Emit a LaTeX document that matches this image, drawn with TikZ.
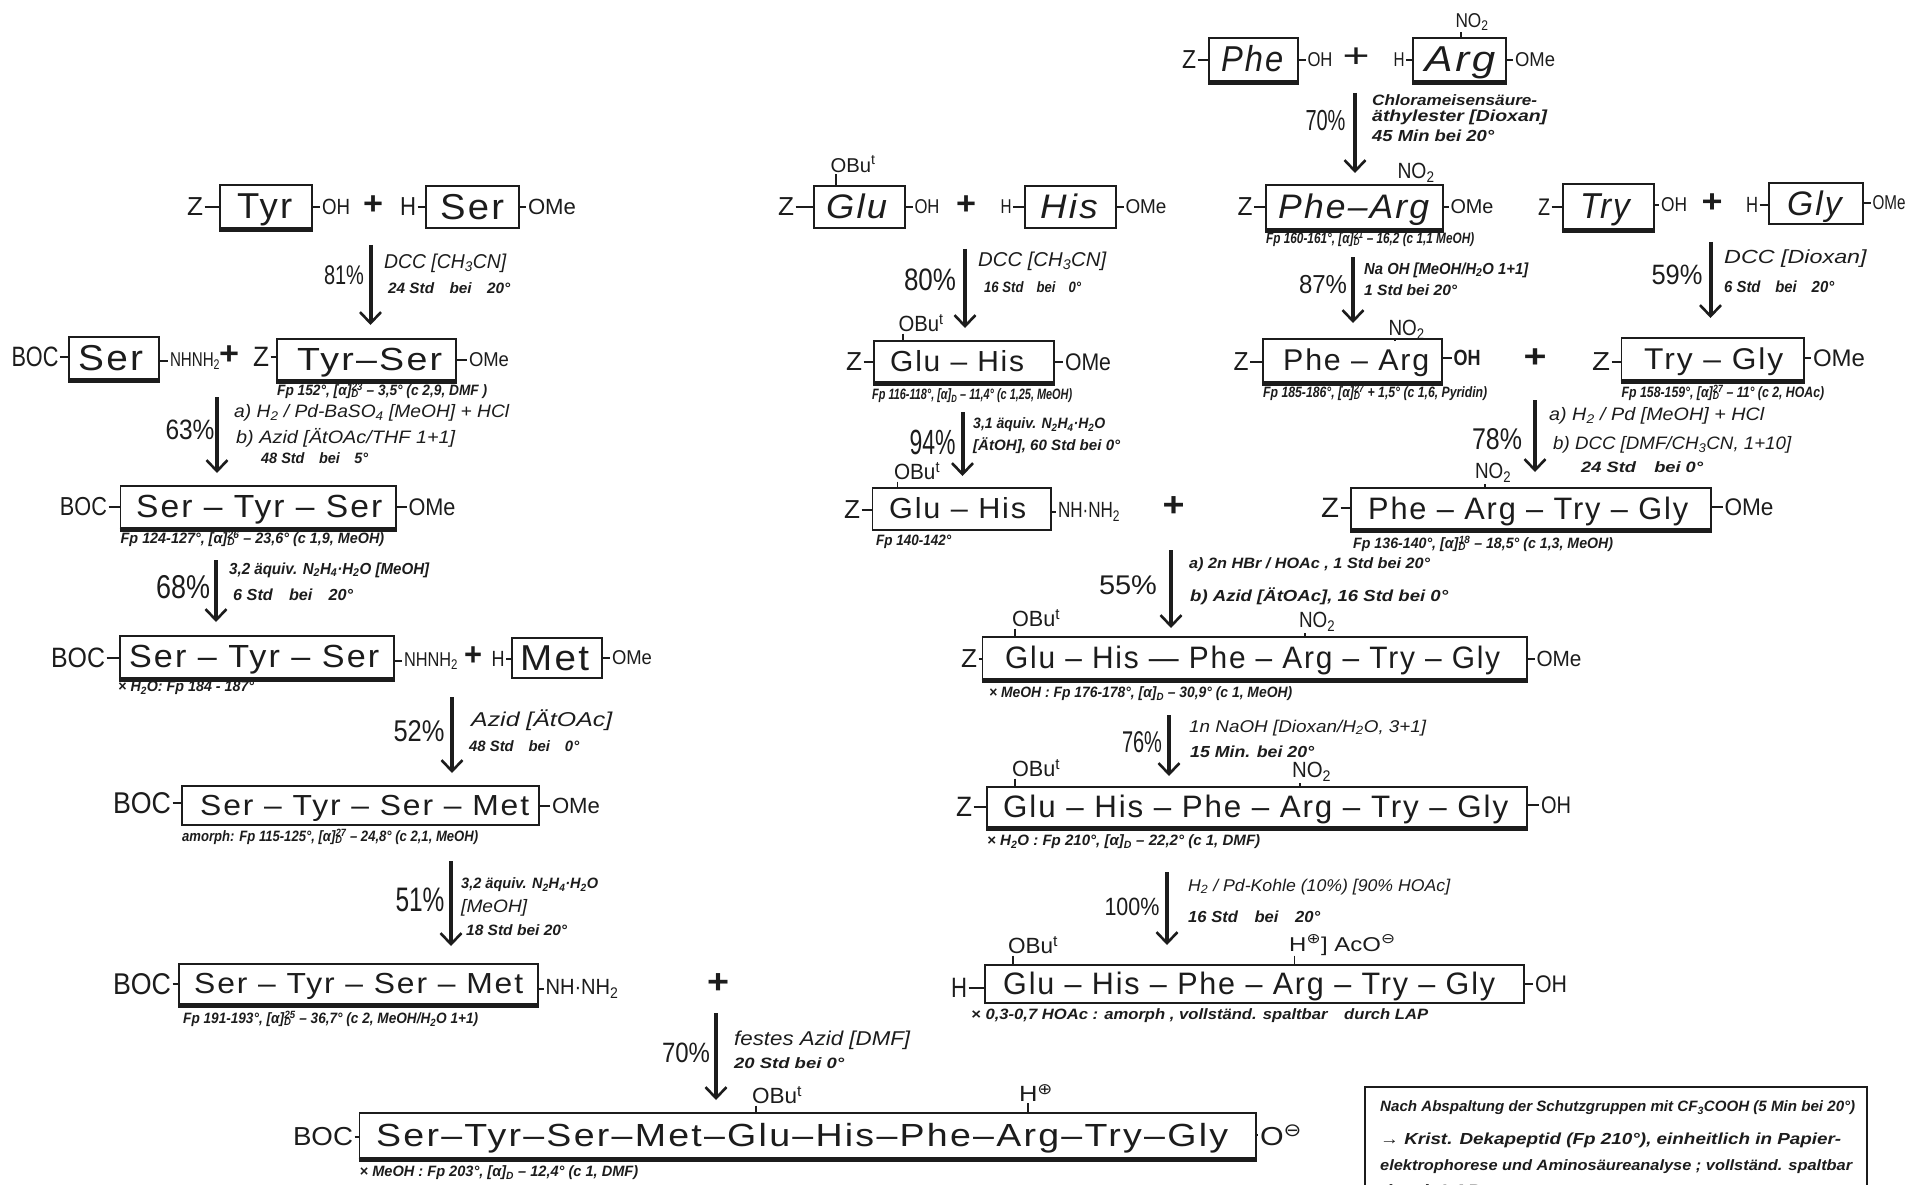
\documentclass[tikz,border=0pt]{standalone}
\usepackage{fontspec}
\usepackage{graphicx}
\usetikzlibrary{arrows.meta,calc}
\setmainfont{Liberation Sans}
\newfontfamily\pepfont[LetterSpace=6]{Liberation Sans}
\newfontfamily\symfont{DejaVu Sans}
\definecolor{ink}{HTML}{1C1C1C}
\tikzset{
  boxline/.style={draw=ink,line width=1.8pt,inner sep=0pt},
  heavyline/.style={draw=ink,line width=4.5pt},
  tickline/.style={draw=ink,line width=1.4pt},
  rxnarrow/.style={draw=ink,line width=4pt,-{Straight Barb[length=11pt,width=21pt,line width=2.6pt]}},
  lbl/.style={inner sep=1.5pt,text=ink},
  txt/.style={inner sep=0pt,text=ink,anchor=west},
}
\newcommand\ds[1]{\textsubscript{#1}}
\newcommand\us[1]{\textsuperscript{#1}}
\newcommand\stk[2]{\textsubscript{\rlap{#2}}\textsuperscript{#1}}
\newcommand\oplussym{{\symfont ⊕}}
\newcommand\ominussym{{\symfont ⊖}}
\newcommand\fitw[2]{\resizebox{#1pt}{\height}{#2}}
% peptide box: name x1 y1 x2 y2 textx1 textx2 size text
\newcommand\pep[9]{%
  \pgfmathsetmacro\pw{#4-#2}\pgfmathsetmacro\ph{#5-#3}%
  \pgfmathsetmacro\pcx{(#2+#4)/2}\pgfmathsetmacro\pcy{(#3+#5)/2}%
  \pgfmathsetmacro\tw{#7-#6}\pgfmathsetmacro\tby{(#3+#5)/2+0.34*#8}%
  \node[boxline,minimum width=\pw pt,minimum height=\ph pt] (#1) at (\pcx,\pcy) {};%
  \node[anchor=base west,inner sep=0pt,text=ink,font={\pepfont\fontsize{#8}{#8}\selectfont}] (#1t) at (#6,\tby) {\fitw{\tw}{#9}};%
}
\newcommand\heavy[1]{\draw[heavyline] ([yshift=-1pt]#1.south west) -- ([yshift=-1pt]#1.south east);}
% centred label: name cx cy width size text
\newcommand\lab[6]{\node[lbl,font={\fontsize{#5}{#5}\selectfont}] (#1) at (#2,#3) {\fitw{#4}{#6}};}
% left tick, right tick, top tick
\newcommand\tickL[2]{\draw[tickline] (#1.east) -- (#1.east -| #2.west);}
\newcommand\tickR[2]{\draw[tickline] (#2.east |- #1.west) -- (#1.west);}
\newcommand\tickT[3]{\coordinate (#1x) at (#2,0);\draw[tickline] (#1x |- #1.south) -- (#1x |- #3.north);}
% reaction arrow: name x y1 y2
\newcommand\rxn[4]{\coordinate (#1a) at (#2,#3);\coordinate (#1b) at (#2,#4);\draw[rxnarrow] (#1a) -- (#1b);}
% left aligned text: name left right cy size text; small sizes are set heavier, as the pen is
\newcommand\tx[6]{\pgfmathsetmacro\tw{#3-#2}\node[txt,font={\itshape\fontsize{#5}{#5}\selectfont}] (#1) at (#2,#4) {\fitw{\tw}{\ifnum#5<17 \bfseries\fi #6}};}
\begin{document}
\begin{tikzpicture}[x=1pt,y=-1pt]
\clip (0,0) rectangle (1909,1185);
\fill[white] (0,0) rectangle (1909,1185);

%%% LEFT COLUMN
\pep{tyr}{220}{185}{312}{228}{237}{292}{36}{Tyr}\heavy{tyr}
\pep{ser}{426}{186}{519}{228}{440}{504}{36}{Ser}
\lab{z1}{195}{207}{16}{26}{Z}\lab{oh1}{336}{207}{28}{22}{OH}\lab{pl1}{373}{205}{20}{32}{\textbf{+}}
\lab{h1}{408}{207}{16}{26}{H}\lab{ome1}{552}{207}{48}{22}{OMe}
\tickL{z1}{tyr}\tickR{oh1}{tyr}\tickL{h1}{ser}\tickR{ome1}{ser}
\rxn{r1}{370.5}{245}{325}
\lab{p1}{344}{275}{40}{27}{81\%}
\tx{t1a}{384}{506}{263}{20}{DCC [CH\ds{3}CN]}
\tx{t1b}{388}{510}{288}{15}{24 Std\quad bei\quad 20°}

\pep{ser2}{69}{337}{159}{379}{78}{143}{36}{Ser}\heavy{ser2}
\pep{tyrser}{277}{339}{456}{380}{297}{442}{32}{Tyr–Ser}\heavy{tyrser}
\lab{boc2}{35}{357}{47}{28}{BOC}\lab{nh2}{195}{361}{50}{20}{NHNH\ds{2}}\lab{pl2}{229}{355}{20}{32}{\textbf{+}}
\lab{z2}{261}{357}{16}{28}{Z}\lab{ome2}{489}{360}{40}{20}{OMe}
\tickL{boc2}{ser2}\tickR{nh2}{ser2}\tickL{z2}{tyrser}\tickR{ome2}{tyrser}
\tx{f2}{277}{487}{391}{15}{Fp 152°, [α]\stk{23}{D} – 3,5° (c 2,9, DMF )}
\rxn{r2}{217}{397}{473}
\lab{p2}{190}{430}{49}{28}{63\%}
\tx{t2a}{234}{509}{413}{18}{a) H\ds{2} / Pd-BaSO\ds{4} [MeOH] + HCl}
\tx{t2b}{236}{455}{438}{18}{b) Azid [ÄtOAc/THF 1+1]}
\tx{t2c}{261}{368}{458}{15}{48 Std\quad bei\quad 5°}

\pep{sts}{120.5}{486}{396}{528}{136}{382}{32}{Ser – Tyr – Ser}\heavy{sts}
\lab{boc3}{83.5}{507}{47}{26}{BOC}\lab{ome3}{432}{507}{47}{24}{OMe}
\tickL{boc3}{sts}\tickR{ome3}{sts}
\tx{f3}{120.5}{384}{539}{15}{Fp 124-127°, [α]\stk{26}{D} – 23,6° (c 1,9, MeOH)}
\rxn{r3}{216}{560}{622}
\lab{p3}{183}{587}{54}{33}{68\%}
\tx{t3a}{229}{429}{570}{16}{3,2 äquiv. N\ds{2}H\ds{4}·H\ds{2}O [MeOH]}
\tx{t3b}{233}{353}{595}{16}{6 Std\quad bei\quad 20°}

\pep{sts2}{120}{636}{394}{678}{129}{379}{32}{Ser – Tyr – Ser}\heavy{sts2}
\pep{met}{512}{638}{602}{678}{520}{589}{36}{Met}
\lab{boc4}{78}{658}{54}{28}{BOC}\lab{nh4}{431}{661}{54}{20}{NHNH\ds{2}}\lab{pl4}{473}{656}{18}{32}{\textbf{+}}
\lab{h4}{498}{659}{13}{22}{H}\lab{ome4}{632}{658}{40}{20}{OMe}
\tickL{boc4}{sts2}\tickR{nh4}{sts2}\tickL{h4}{met}\tickR{ome4}{met}
\tx{f4}{118}{254}{688}{15}{× H\ds{2}O: Fp 184 - 187°}
\rxn{r4}{452}{697}{773}
\lab{p4}{419}{731}{51}{30}{52\%}
\tx{t4a}{471}{612}{720}{20}{Azid [ÄtOAc]}
\tx{t4b}{469}{579}{746}{15}{48 Std\quad bei\quad 0°}

\pep{stsm}{182}{786}{539}{825}{200}{529}{29}{Ser – Tyr – Ser – Met}
\lab{boc5}{142}{803}{58}{30}{BOC}\lab{ome5}{576}{806}{48}{22}{OMe}
\tickL{boc5}{stsm}\tickR{ome5}{stsm}
\tx{f5}{182}{478}{837}{15}{amorph: Fp 115-125°, [α]\stk{27}{D} – 24,8° (c 2,1, MeOH)}
\rxn{r5}{451}{861}{946}
\lab{p5}{420}{900}{49}{34}{51\%}
\tx{t5a}{461}{598}{885}{15}{3,2 äquiv. N\ds{2}H\ds{4}·H\ds{2}O}
\tx{t5b}{461}{527}{908}{18}{[MeOH]}
\tx{t5c}{466}{567}{930}{15}{18 Std bei 20°}

\pep{stsm2}{179}{964}{538}{1004}{194}{523}{29}{Ser – Tyr – Ser – Met}\heavy{stsm2}
\lab{boc6}{142}{984}{58}{30}{BOC}\lab{nh6}{582}{989}{73}{22}{NH·NH\ds{2}}
\tickL{boc6}{stsm2}\tickR{nh6}{stsm2}
\tx{f6}{183}{478}{1019}{15}{Fp 191-193°, [α]\stk{25}{D} – 36,7° (c 2, MeOH/H\ds{2}O 1+1)}
\lab{pl6}{718}{984}{22}{34}{\textbf{+}}
\rxn{r6}{716}{1013}{1100}
\lab{p6}{686}{1053}{48}{28}{70\%}
\tx{t6a}{734}{910}{1040}{20}{festes Azid [DMF]}
\tx{t6b}{734}{844}{1063}{15}{20 Std bei 0°}

%%% FINAL
\pep{fin}{359.5}{1113}{1256}{1158}{376}{1228}{32}{Ser–Tyr–Ser–Met–Glu–His–Phe–Arg–Try–Gly}\heavy{fin}
\lab{bocf}{323}{1137}{60}{26}{BOC}\lab{of}{1281}{1135}{42}{26}{O\us{\ominussym}}
\tickL{bocf}{fin}\tickR{of}{fin}
\lab{obf}{777}{1095}{50}{22}{OBu\us{t}}\tickT{obf}{756}{fin}
\lab{hf}{1036}{1093}{34}{22}{H\us{\oplussym}}\tickT{hf}{1028}{fin}
\tx{ff}{359.5}{638}{1173}{15}{× MeOH : Fp 203°, [α]\ds{D} – 12,4° (c 1, DMF)}

%%% CENTRE COLUMN
\pep{glu}{814}{186}{905}{228}{826}{887}{34}{\itshape Glu}
\pep{his}{1025}{186}{1116}{228}{1040}{1097.5}{34}{\itshape His}
\lab{z7}{786}{207}{16}{26}{Z}\lab{oh7}{927}{207}{25}{20}{OH}\lab{pl7}{966}{205}{20}{32}{\textbf{+}}
\lab{h7}{1006}{207}{11}{20}{H}\lab{ome7}{1146}{207}{41}{20}{OMe}
\tickL{z7}{glu}\tickR{oh7}{glu}\tickL{h7}{his}\tickR{ome7}{his}
\lab{ob7}{853}{164}{45}{20}{OBu\us{t}}\tickT{ob7}{836}{glu}
\rxn{r7}{965}{249}{328}
\lab{p7}{930}{280}{52}{31}{80\%}
\tx{t7a}{978}{1106}{261}{20}{DCC [CH\ds{3}CN]}
\tx{t7b}{984}{1081}{287}{15}{16 Std\quad bei\quad 0°}

\pep{gh}{874}{341}{1054}{382}{890}{1024}{29}{Glu – His}\heavy{gh}
\lab{z8}{854}{362}{16}{26}{Z}\lab{ome8}{1088}{362}{46}{24}{OMe}
\tickL{z8}{gh}\tickR{ome8}{gh}
\lab{ob8}{921}{323}{45}{22}{OBu\us{t}}\tickT{ob8}{903}{gh}
\tx{f8}{872}{1072}{396}{15}{Fp 116-118°, [α]\ds{D} – 11,4° (c 1,25, MeOH)}
\rxn{r8}{962.5}{412}{476}
\lab{p8}{932.5}{442}{46}{35}{94\%}
\tx{t8a}{973}{1105}{425}{15}{3,1 äquiv. N\ds{2}H\ds{4}·H\ds{2}O}
\tx{t8b}{973}{1120}{446}{15}{[ÄtOH], 60 Std bei 0°}

\pep{gh2}{872.5}{488}{1051}{530}{889}{1026}{29}{Glu – His}
\lab{z9}{852}{510}{16}{26}{Z}\lab{nh9}{1089}{512}{62}{22}{NH·NH\ds{2}}
\tickL{z9}{gh2}\tickR{nh9}{gh2}
\lab{ob9}{917}{471}{46}{22}{OBu\us{t}}\tickT{ob9}{897.5}{gh2}
\tx{f9}{876}{951}{542}{15}{Fp 140-142°}
\lab{pl9}{1173.6}{507}{22}{34}{\textbf{+}}

%%% RIGHT COLUMN
\pep{phe}{1209}{38}{1298}{81}{1221}{1283}{36}{\itshape Phe}\heavy{phe}
\pep{arg}{1413}{38}{1506}{81}{1424.5}{1495}{36}{\itshape Arg}\heavy{arg}
\lab{z10}{1189}{60}{14}{26}{Z}\lab{oh10}{1320}{60}{25}{20}{OH}\lab{pl10}{1356}{58}{27}{34}{+}
\lab{h10}{1399}{60}{11}{20}{H}\lab{ome10}{1535}{60}{40}{20}{OMe}
\tickL{z10}{phe}\tickR{oh10}{phe}\tickL{h10}{arg}\tickR{ome10}{arg}
\lab{no10}{1472}{22}{33}{20}{NO\ds{2}}\tickT{no10}{1461}{arg}
\rxn{r10}{1355}{93}{173}
\lab{p10}{1325.5}{121}{40}{29}{70\%}
\tx{t10a}{1372}{1537}{100}{15}{Chlorameisensäure-}
\tx{t10b}{1372}{1547}{117}{16}{äthylester [Dioxan]}
\tx{t10c}{1372}{1494}{136}{16}{45 Min bei 20°}

\pep{pa}{1266}{185}{1443}{229}{1278}{1429}{34}{\itshape Phe–Arg}\heavy{pa}
\lab{z11}{1245}{207}{15}{26}{Z}\lab{ome11}{1472}{207}{43}{20}{OMe}
\tickL{z11}{pa}\tickR{ome11}{pa}
\lab{no11}{1416}{173}{37}{22}{NO\ds{2}}\tickT{no11}{1402}{pa}
\tx{f11}{1266}{1474}{239}{15}{Fp 160-161°, [α]\stk{21}{D} – 16,2 (c 1,1 MeOH)}
\rxn{r11}{1353}{257}{323}
\lab{p11}{1323}{285}{48}{26}{87\%}
\tx{t11a}{1364}{1528}{270}{16}{Na OH [MeOH/H\ds{2}O 1+1]}
\tx{t11b}{1364}{1457}{290}{15}{1 Std bei 20°}

\pep{try}{1562.6}{184}{1654}{229}{1580}{1629.5}{36}{\itshape Try}\heavy{try}
\pep{gly}{1769}{183}{1863}{224}{1787}{1841.5}{34}{\itshape Gly}
\lab{z12}{1544}{207}{12}{24}{Z}\lab{oh12}{1674}{205}{26}{20}{OH}\lab{pl12}{1712}{203}{21}{32}{\textbf{+}}
\lab{h12}{1752}{205}{12}{22}{H}\lab{ome12}{1889}{203}{33}{20}{OMe}
\tickL{z12}{try}\tickR{oh12}{try}\tickL{h12}{gly}\tickR{ome12}{gly}
\rxn{r12}{1710.5}{242}{318}
\lab{p12}{1677}{275}{51}{28}{59\%}
\tx{t12a}{1724}{1866.5}{259}{19}{DCC [Dioxan]}
\tx{t12b}{1724}{1834}{287}{16}{6 Std\quad bei\quad 20°}

\pep{pa2}{1263}{339}{1442}{382}{1283}{1429}{30}{Phe – Arg}\heavy{pa2}
\lab{z13}{1241}{362}{15}{26}{Z}\lab{oh13}{1467}{358}{27}{22}{\textbf{OH}}
\tickL{z13}{pa2}\tickR{oh13}{pa2}
\lab{no13}{1406.6}{330}{36}{22}{NO\ds{2}}\tickT{no13}{1395}{pa2}
\tx{f13}{1263}{1487}{393}{15}{Fp 185-186°, [α]\stk{27}{D} + 1,5° (c 1,6, Pyridin)}
\lab{pl13}{1535}{358}{23}{32}{\textbf{+}}
\pep{tg}{1621.5}{338}{1804}{380}{1644}{1783}{30}{Try – Gly}\heavy{tg}
\lab{z14}{1601}{362}{18}{26}{Z}\lab{ome14}{1839}{358}{52}{24}{OMe}
\tickL{z14}{tg}\tickR{ome14}{tg}
\tx{f14}{1621.5}{1824}{393}{15}{Fp 158-159°, [α]\stk{27}{D} – 11° (c 2, HOAc)}
\rxn{r14}{1535}{400}{472}
\lab{p14}{1497}{439}{50}{30}{78\%}
\tx{t14a}{1549}{1764}{416}{18}{a) H\ds{2} / Pd [MeOH] + HCl}
\tx{t14b}{1553}{1791}{445}{18}{b) DCC [DMF/CH\ds{3}CN, 1+10]}
\tx{t14c}{1581}{1703}{467}{15}{24 Std\quad bei 0°}

\pep{patg}{1351}{488}{1711}{529}{1368}{1688}{31}{Phe – Arg – Try – Gly}\heavy{patg}
\lab{z15}{1330}{508}{18}{28}{Z}\lab{ome15}{1749}{507}{49}{24}{OMe}
\tickL{z15}{patg}\tickR{ome15}{patg}
\lab{no15}{1493}{473}{36}{22}{NO\ds{2}}\tickT{no15}{1485}{patg}
\tx{f15}{1353}{1613}{544}{15}{Fp 136-140°, [α]\stk{18}{D} – 18,5° (c 1,3, MeOH)}
\rxn{r15}{1171}{550}{628}
\lab{p15}{1128}{585}{58}{27}{55\%}
\tx{t15a}{1189}{1430}{565}{15}{a) 2n HBr / HOAc , 1 Std bei 20°}
\tx{t15b}{1190}{1448}{596}{16}{b) Azid [ÄtOAc], 16 Std bei 0°}

\pep{hex1}{982.5}{637}{1527}{679}{1005}{1500}{31}{Glu – His — Phe – Arg – Try – Gly}\heavy{hex1}
\lab{z16}{969}{659}{16}{26}{Z}\lab{ome16}{1559}{659}{45}{22}{OMe}
\tickL{z16}{hex1}\tickR{ome16}{hex1}
\lab{no16}{1317}{622}{36}{22}{NO\ds{2}}\tickT{no16}{1305}{hex1}
\lab{ob16}{1036}{618}{48}{22}{OBu\us{t}}\tickT{ob16}{1015}{hex1}
\tx{f16}{989}{1292}{694}{15}{× MeOH : Fp 176-178°, [α]\ds{D} – 30,9° (c 1, MeOH)}
\rxn{r16}{1169}{715}{776}
\lab{p16}{1142}{742}{40}{30}{76\%}
\tx{t16a}{1189}{1426}{728}{17}{1n NaOH [Dioxan/H\ds{2}O, 3+1]}
\tx{t16b}{1190}{1314}{752}{16}{15 Min. bei 20°}

\pep{hex2}{987}{787}{1527}{827}{1003}{1508}{31}{Glu – His – Phe – Arg – Try – Gly}\heavy{hex2}
\lab{z17}{964}{807}{16}{28}{Z}\lab{oh17}{1556}{805}{30}{24}{OH}
\tickL{z17}{hex2}\tickR{oh17}{hex2}
\lab{no17}{1311.6}{772}{39}{22}{NO\ds{2}}\tickT{no17}{1300}{hex2}
\lab{ob17}{1036}{768}{48}{22}{OBu\us{t}}\tickT{ob17}{1015}{hex2}
\tx{f17}{987}{1260}{842}{15}{× H\ds{2}O : Fp 210°, [α]\ds{D} – 22,2° (c 1, DMF)}
\rxn{r17}{1167}{872}{945}
\lab{p17}{1132}{907}{55}{25}{100\%}
\tx{t17a}{1188}{1450}{887}{17}{H\ds{2} / Pd-Kohle (10\%) [90\% HOAc]}
\tx{t17b}{1188}{1320}{917}{16}{16 Std\quad bei\quad 20°}

\pep{hex3}{985}{965}{1524}{1003}{1003}{1495}{31}{Glu – His – Phe – Arg – Try – Gly}
\lab{h18}{959}{988}{16}{28}{H}\lab{oh18}{1551}{984}{32}{24}{OH}
\tickL{h18}{hex3}\tickR{oh18}{hex3}
\lab{ob18}{1033}{945}{50}{22}{OBu\us{t}}\tickT{ob18}{1013}{hex3}
\tx{hp}{1289}{1395.5}{945}{20}{\upshape H\us{\oplussym}] AcO\us{\ominussym}}
\tickT{hp}{1294.5}{hex3}
\tx{f18}{971}{1428}{1016}{15}{× 0,3-0,7 HOAc : amorph , vollständ. spaltbar\quad durch LAP}

%%% NOTE BOX
\node[boxline,minimum width=501.5pt,minimum height=140pt] (notebox) at (1616,1157) {};
\tx{n1}{1380}{1855}{1108}{15}{Nach Abspaltung der Schutzgruppen mit CF\ds{3}COOH (5 Min bei 20°)}
\tx{n2}{1380}{1841}{1140}{16}{→ Krist. Dekapeptid (Fp 210°), einheitlich in Papier-}
\tx{n3}{1380}{1852}{1167}{15}{elektrophorese und Aminosäureanalyse ; vollständ. spaltbar}
\tx{n4}{1380}{1480}{1190}{15}{durch LAP}
\end{tikzpicture}
\end{document}
